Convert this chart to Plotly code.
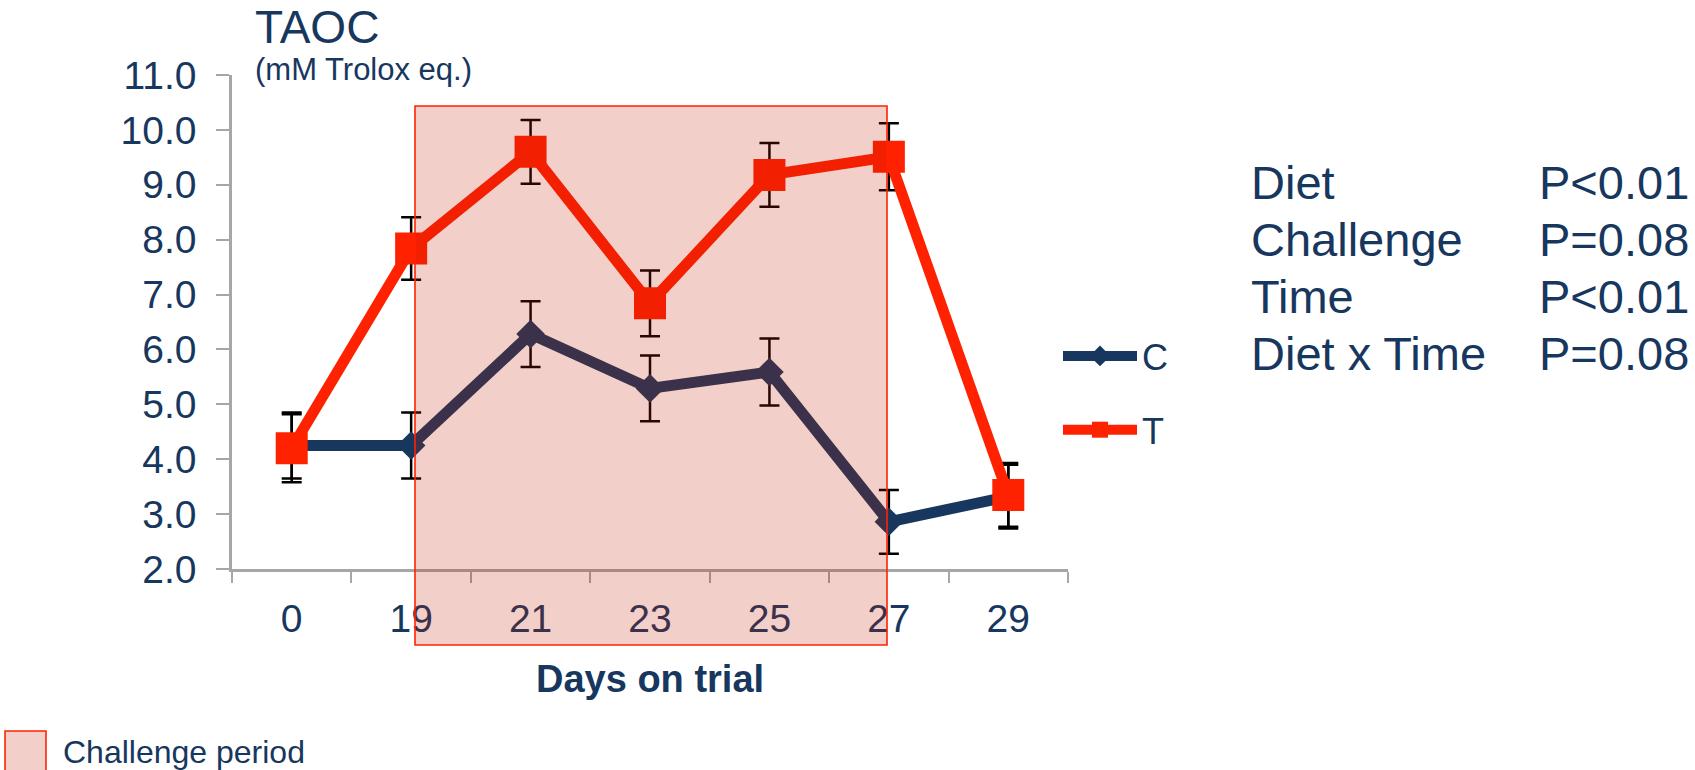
import plotly.graph_objects as go

# Days on trial (category axis) and TAOC means / standard errors
days = ["0", "19", "21", "23", "25", "27", "29"]
c_mean = [4.25, 4.25, 6.28, 5.29, 5.59, 2.86, 3.32]
c_err = [0.60, 0.60, 0.60, 0.60, 0.61, 0.58, 0.58]
t_mean = [4.20, 7.84, 9.60, 6.84, 9.18, 9.51, 3.35]
t_err = [0.62, 0.57, 0.58, 0.60, 0.58, 0.61, 0.58]

# statistics table shown to the right of the chart
stat_terms = ["Diet", "Challenge", "Time", "Diet x Time"]
stat_pvals = ["P<0.01", "P=0.08", "P<0.01", "P=0.08"]

NAVY = "#17375E"
RED = "#FF2200"
GREY = "#A6A6A6"
FONT = "Liberation Sans, Arial, sans-serif"

W, H = 1695, 770
# plot-area edges in pixels
PL, PR, PT, PB = 232, 1068, 75, 569


def fx(px):
    return (px - PL) / (PR - PL)


def fy(py):
    return (PB - py) / (PB - PT)


fig = go.Figure()

fig.add_trace(go.Scatter(
    x=days, y=c_mean, name="C", mode="lines+markers",
    legendgroup="c",
    line=dict(color=NAVY, width=11),
    marker=dict(symbol="diamond", size=22, color=NAVY),
    error_y=dict(type="data", array=c_err, color="black", thickness=2.5, width=10),
))
fig.add_trace(go.Scatter(
    x=days, y=t_mean, name="T", mode="lines+markers",
    legendgroup="t",
    line=dict(color=RED, width=11),
    marker=dict(symbol="square", size=32, color=RED),
    error_y=dict(type="data", array=t_err, color="black", thickness=2.5, width=10),
))

# challenge period overlay (drawn above the data, semi-transparent)
fig.add_shape(
    type="rect", xref="paper", yref="paper", layer="above",
    x0=fx(415), x1=fx(887), y0=fy(645), y1=fy(106),
    fillcolor="rgba(192,28,0,0.21)",
    line=dict(color=RED, width=1.6),
)
# key swatch for the challenge period
fig.add_shape(
    type="rect", xref="paper", yref="paper", layer="above",
    x0=fx(5), x1=fx(46), y0=fy(780), y1=fy(731),
    fillcolor="rgba(192,28,0,0.21)",
    line=dict(color=RED, width=1.6),
)

ann = []
ann.append(dict(text="TAOC", x=fx(253), y=fy(27), xanchor="left", yanchor="middle",
                font=dict(size=46, color=NAVY)))
ann.append(dict(text="(mM Trolox eq.)", x=fx(253), y=fy(69), xanchor="left", yanchor="middle",
                font=dict(size=31, color=NAVY)))
ann.append(dict(text="<b>Days on trial</b>", x=fx(650), y=fy(679), xanchor="center",
                yanchor="middle", font=dict(size=38, color=NAVY)))
ann.append(dict(text="Challenge period", x=fx(61), y=fy(752), xanchor="left",
                yanchor="middle", font=dict(size=32, color=NAVY)))
for i, (term, pv) in enumerate(zip(stat_terms, stat_pvals)):
    yy = fy(182 + 57.2 * i)
    ann.append(dict(text=term, x=fx(1249), y=yy, xanchor="left", yanchor="middle",
                    font=dict(size=47, color=NAVY)))
    ann.append(dict(text=pv, x=fx(1537), y=yy, xanchor="left", yanchor="middle",
                    font=dict(size=47, color=NAVY)))
for a in ann:
    a.update(xref="paper", yref="paper", showarrow=False)

fig.update_layout(
    width=W, height=H,
    margin=dict(l=PL, r=W - PR, t=PT, b=H - PB, pad=0),
    paper_bgcolor="white", plot_bgcolor="white",
    font=dict(family=FONT, color=NAVY),
    annotations=ann,
    showlegend=True,
    legend=dict(
        x=fx(1058), y=fy(393), xanchor="left", yanchor="middle",
        font=dict(size=36, color=NAVY),
        itemwidth=74, tracegroupgap=24, traceorder="grouped",
        bgcolor="rgba(0,0,0,0)",
    ),
    xaxis=dict(
        type="category", range=[-0.5, 6.5],
        showline=True, linecolor=GREY, linewidth=2.5,
        ticks="outside", tickson="boundaries", ticklen=11, tickwidth=2, tickcolor=GREY,
        showgrid=False, zeroline=False,
        tickfont=dict(size=39, color=NAVY),
        ticklabelstandoff=13,
    ),
    yaxis=dict(
        range=[2, 11], dtick=1, tickformat=".1f",
        showline=True, linecolor=GREY, linewidth=2.5,
        ticks="outside", ticklen=13, tickwidth=2, tickcolor=GREY,
        showgrid=False, zeroline=False,
        tickfont=dict(size=39, color=NAVY),
        ticklabelstandoff=12,
    ),
)

fig.write_html("out.html")
